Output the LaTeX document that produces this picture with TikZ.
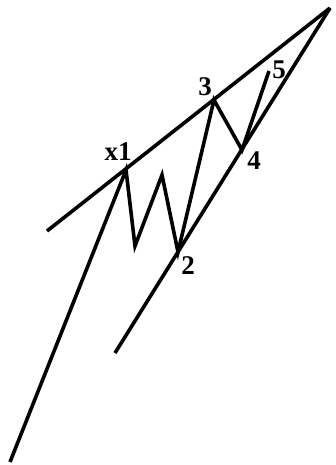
\documentclass[tikz,border=0pt]{standalone}
\usepackage{fontspec}
\setmainfont{Liberation Serif}
\begin{document}
\begin{tikzpicture}[x=1pt,y=-1pt,
  wave/.style={line width=3.6pt,line join=miter,draw=black},
  lbl/.style={font=\fontsize{27}{27}\selectfont\bfseries,inner sep=0pt}]
\useasboundingbox (0,0) rectangle (335,465);
% wave points
\coordinate (apex) at (330,8);
\coordinate (up0)  at (47,231);
\coordinate (lo0)  at (115,353);
\coordinate (base) at (10,462);
\coordinate (p1)   at (126,170);
\coordinate (a)    at (135,246);
\coordinate (b)    at (162,175);
\coordinate (p2)   at (178,252);
\coordinate (p3)   at (214,100);
\coordinate (p4)   at (242,150);
\coordinate (p5)   at (269,71);
% labels
\node[lbl] (lx1) at (118,152) {x1};
\node[lbl] (l2)  at (188,266) {2};
\node[lbl] (l3)  at (205,87)  {3};
\node[lbl] (l4)  at (254,161) {4};
\node[lbl] (l5)  at (279,70)  {5};
% channel lines
\draw[wave] (up0)--(apex); \draw[wave] (lo0)--(apex);
% wave path
\draw[wave] (base)--(p1)--(a)--(b)--(p2)--(p3)--(p4)--(p5);
\end{tikzpicture}
\end{document}
